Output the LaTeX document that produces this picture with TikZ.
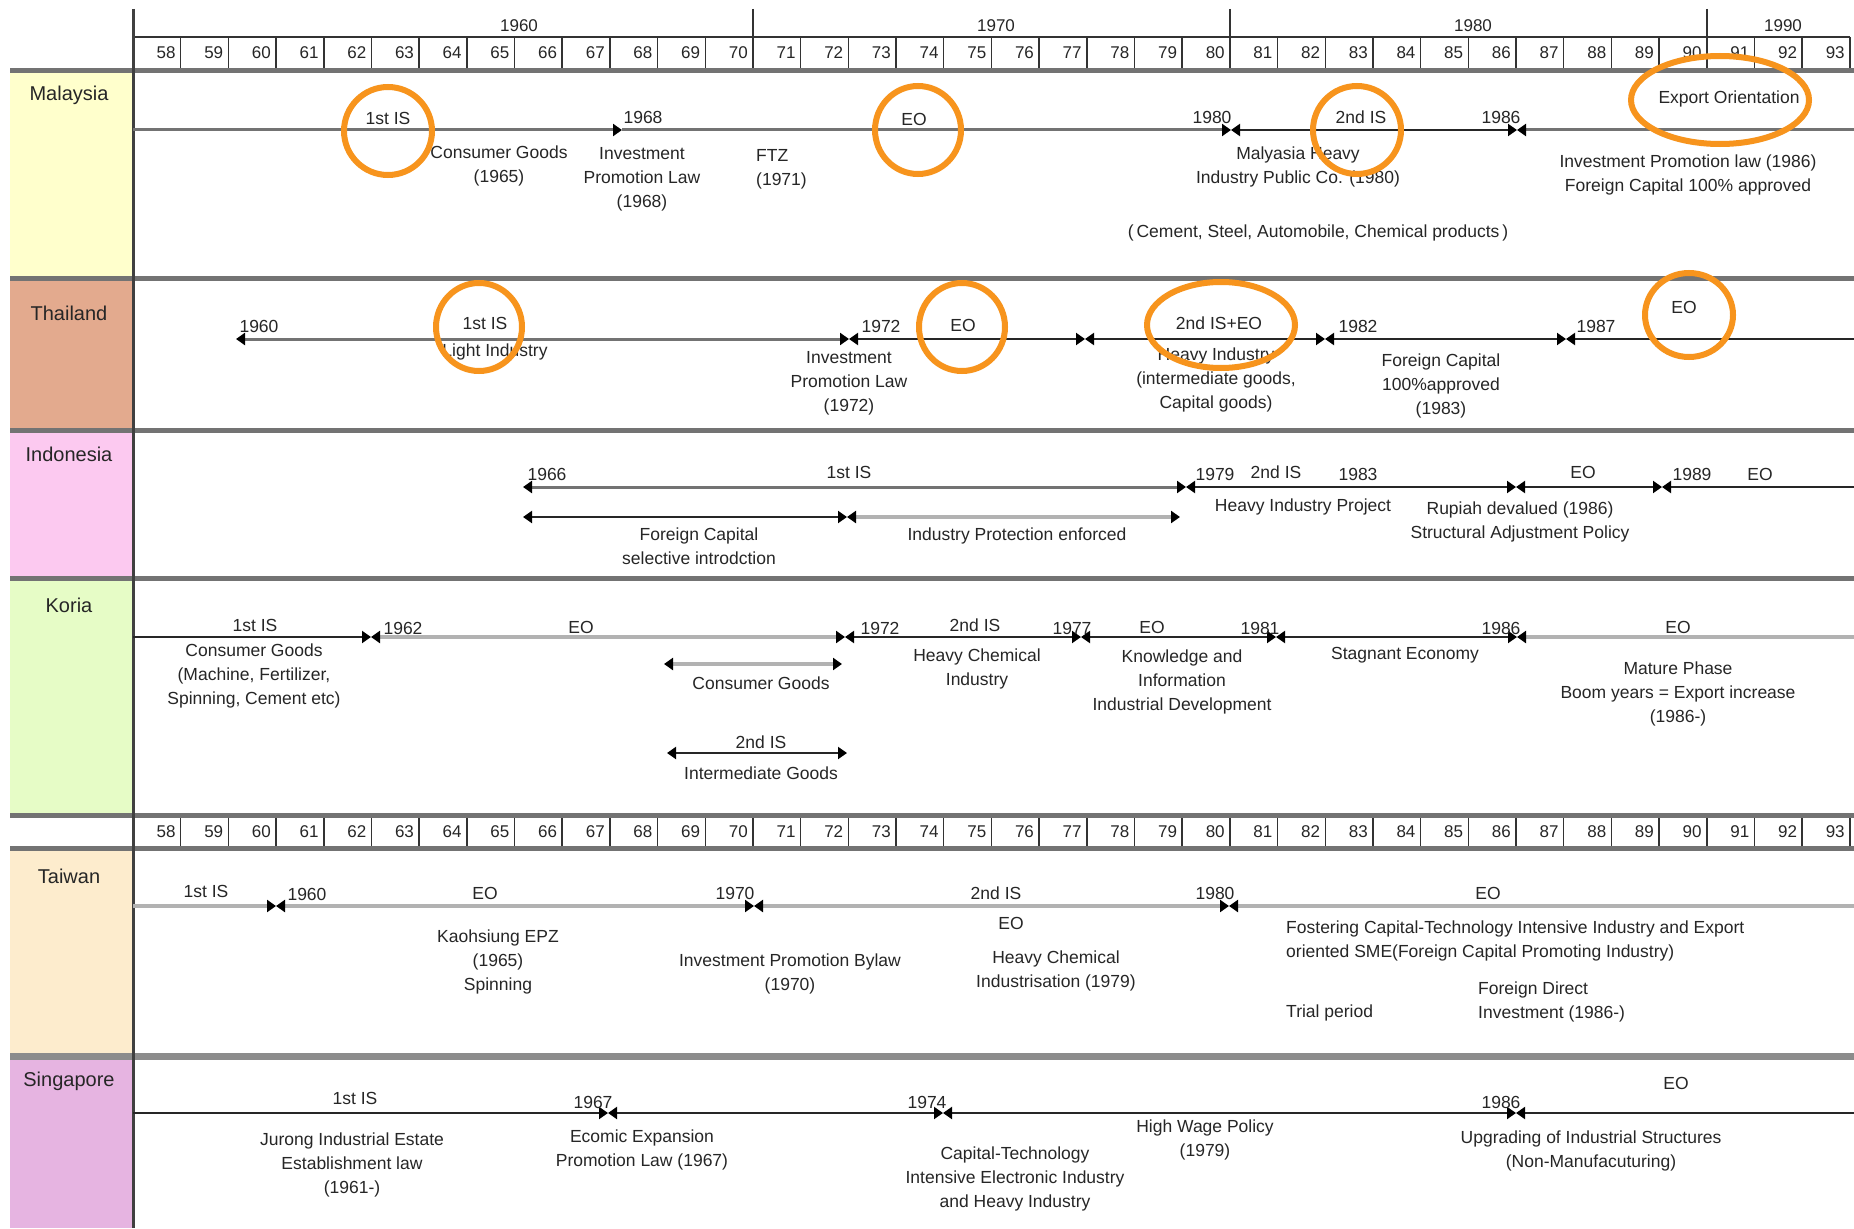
\documentclass[tikz,border=0pt]{standalone}
\usepackage{fontspec}
\setmainfont{Liberation Sans}
\usetikzlibrary{arrows.meta}
\definecolor{ring}{RGB}{247,148,29}
\definecolor{cMal}{RGB}{255,255,204}
\definecolor{cTha}{RGB}{227,170,142}
\definecolor{cIdn}{RGB}{252,201,240}
\definecolor{cKor}{RGB}{230,252,198}
\definecolor{cTwn}{RGB}{253,236,205}
\definecolor{cSgp}{RGB}{230,180,225}
\begin{document}
\begin{tikzpicture}[x=1pt,y=-1pt,
  tri/.tip={Triangle[length=9pt,width=12pt,color=black]},
  lbl/.style={font=\fontsize{17.5}{24}\selectfont,text=black!85,align=center,inner sep=0pt},
  lbll/.style={lbl,align=left,anchor=west},
  yr/.style={font=\fontsize{17}{20}\selectfont,text=black!85,inner sep=0pt},
  country/.style={font=\fontsize{20}{24}\selectfont,text=black!85,inner sep=0pt},
  sepbar/.style={draw=black!55,line width=5},
  midln/.style={draw=black!55,line width=3},
  darkln/.style={draw=black!85,line width=2},
  lightln/.style={draw=black!30,line width=4.5},
  ringc/.style={draw=ring,line width=6}]

\useasboundingbox (0,0) rectangle (1854,1228);
\fill[white] (0,0) rectangle (1854,1228);

% country label column
\fill[cMal] (10,73) rectangle (133,276);
\fill[cTha] (10,280) rectangle (133,428);
\fill[cIdn] (10,432) rectangle (133,576);
\fill[cKor] (10,580) rectangle (133,813);
\fill[cTwn] (10,850) rectangle (133,1053);
\fill[cSgp] (10,1059) rectangle (133,1228);

\node[country] (lMal) at (69,95) {Malaysia};
\node[country] (lTha) at (69,313) {Thailand};
\node[country] (lIdn) at (69,454) {Indonesia};
\node[country] (lKor) at (69,605) {Koria};
\node[country] (lTwn) at (69,876) {Taiwan};
\node[country] (lSgp) at (69,1081) {Singapore};

% year scales
\def\cw{47.69}
\draw[black!80,line width=1.5] (133,37) -- (1850,37);
\foreach \i in {0,...,35}{
  \pgfmathsetmacro\xr{133+(\i+1)*\cw}
  \pgfmathtruncatemacro\yv{58+\i}
  \draw[black!80,line width=1.5] (\xr,37) -- (\xr,68);
  \draw[black!80,line width=1.5] (\xr,818) -- (\xr,846);
  \node[yr,anchor=east] (ya\i) at (\xr-5,53) {\yv};
  \node[yr,anchor=east] (yb\i) at (\xr-5,832) {\yv};
}
\foreach \k in {13,23,33}{
  \draw[black!80,line width=2] (133+\k*\cw,9) -- (133+\k*\cw,37);
}
\node[yr] (d60) at (519,26) {1960};
\node[yr] (d70) at (996,26) {1970};
\node[yr] (d80) at (1473,26) {1980};
\node[yr] (d90) at (1783,26) {1990};

% row separators
\foreach \yy in {71,278,430,578,815,848}{
  \draw[sepbar] (10,\yy) -- (1854,\yy);
}
\draw[draw=black!45,line width=7] (10,1056) -- (1854,1056);
\draw[black!75,line width=3] (133,9) -- (133,1228);

% ---------- Malaysia ----------
\coordinate (m0) at (133,130);
\coordinate (m68) at (622,130);
\coordinate (m80) at (1231,130);
\coordinate (m86) at (1517,130);
\coordinate (mE) at (1854,130);
\draw[midln,-tri] (m0) -- (m68);
\draw[midln,-tri] (m68) -- (m80);
\draw[darkln,tri-tri] (m80) -- (m86);
\draw[midln,tri-] (m86) -- (mE);

\node[lbl] (mIS1) at (388,118) {1st IS};
\node[lbl] (mY68) at (643,117) {1968};
\node[lbl] (mCG) at (499,166) {Consumer Goods\\(1965)};
\node[lbl] (mIPL) at (642,179) {Investment\\Promotion Law\\(1968)};
\node[lbll] (mFTZ) at (756,169) {FTZ\\(1971)};
\node[lbl] (mEO) at (914,119) {EO};
\node[lbl] (mY80) at (1212,117) {1980};
\node[lbl] (mIS2) at (1361,117) {2nd IS};
\node[lbl] (mY86) at (1501,117) {1986};
\node[lbl] (mHI) at (1298,167) {Malyasia Heavy\\Industry Public Co. (1980)};
\node[lbl] (mCem) at (1318,233) {(\,Cement, Steel, Automobile, Chemical products\,)};
\node[lbl] (mExp) at (1729,99) {Export Orientation};
\node[lbl] (mIPL2) at (1688,175) {Investment Promotion law (1986)\\Foreign Capital 100\% approved};

% ---------- Thailand ----------
\coordinate (t60) at (236,339);
\coordinate (t72) at (849,339);
\coordinate (tB) at (1085,339);
\coordinate (t82) at (1325,339);
\coordinate (t87) at (1566,339);
\coordinate (tE) at (1854,339);
\draw[midln,tri-tri] (t60) -- (t72);
\draw[darkln,tri-tri] (t72) -- (tB);
\draw[darkln,tri-tri] (tB) -- (t82);
\draw[darkln,tri-tri] (t82) -- (t87);
\draw[darkln,tri-] (t87) -- (tE);

\node[lbl] (tY60) at (259,326) {1960};
\node[lbl] (tIS1) at (485,323) {1st IS};
\node[lbl] (tLI) at (495,352) {Light Industry};
\node[lbl] (tY72) at (881,326) {1972};
\node[lbl] (tIPL) at (849,383) {Investment\\Promotion Law\\(1972)};
\node[lbl] (tEO1) at (963,325) {EO};
\node[lbl] (tIS2) at (1219,323) {2nd IS+EO};
\node[lbl] (tHI) at (1216,380) {Heavy Industry\\(intermediate goods,\\Capital goods)};
\node[lbl] (tY82) at (1358,326) {1982};
\node[lbl] (tFC) at (1441,386) {Foreign Capital\\100\%approved\\(1983)};
\node[lbl] (tY87) at (1596,326) {1987};
\node[lbl] (tEO2) at (1684,307) {EO};

% ---------- Indonesia ----------
\coordinate (i66) at (523,487);
\coordinate (i79) at (1186,487);
\coordinate (i86) at (1516,487);
\coordinate (i89) at (1662,487);
\coordinate (iE) at (1854,487);
\draw[midln,tri-tri] (i66) -- (i79);
\draw[darkln,tri-tri] (i79) -- (i86);
\draw[darkln,tri-tri] (i86) -- (i89);
\draw[darkln,tri-] (i89) -- (iE);
\coordinate (j66) at (523,517);
\coordinate (j72) at (847,517);
\coordinate (j79) at (1180,517);
\draw[darkln,tri-tri] (j66) -- (j72);
\draw[lightln,tri-tri] (j72) -- (j79);

\node[lbl] (iY66) at (547,474) {1966};
\node[lbl] (iIS1) at (849,472) {1st IS};
\node[lbl] (iY79) at (1215,474) {1979};
\node[lbl] (iIS2) at (1276,472) {2nd IS};
\node[lbl] (iY83) at (1358,474) {1983};
\node[lbl] (iEO1) at (1583,472) {EO};
\node[lbl] (iY89) at (1692,474) {1989};
\node[lbl] (iEO2) at (1760,474) {EO};
\node[lbl] (iHIP) at (1303,507) {Heavy Industry Project};
\node[lbl] (iRup) at (1520,522) {Rupiah devalued (1986)\\Structural Adjustment Policy};
\node[lbl] (iFC) at (699,546) {Foreign Capital\\selective introdction};
\node[lbl] (iIP) at (1017,536) {Industry Protection enforced};

% ---------- Korea ----------
\coordinate (k0) at (133,637);
\coordinate (k62) at (371,637);
\coordinate (k72) at (845,637);
\coordinate (k77) at (1081,637);
\coordinate (k81) at (1276,637);
\coordinate (k86) at (1517,637);
\coordinate (kE) at (1854,637);
\draw[darkln,-tri] (k0) -- (k62);
\draw[lightln,tri-tri] (k62) -- (k72);
\draw[darkln,tri-tri] (k72) -- (k77);
\draw[darkln,tri-tri] (k77) -- (k81);
\draw[darkln,tri-tri] (k81) -- (k86);
\draw[lightln,tri-] (k86) -- (kE);
\coordinate (kc1) at (664,664);
\coordinate (kc2) at (842,664);
\draw[lightln,tri-tri] (kc1) -- (kc2);
\coordinate (ki1) at (667,753);
\coordinate (ki2) at (847,753);
\draw[darkln,tri-tri] (ki1) -- (ki2);

\node[lbl] (kIS1) at (255,625) {1st IS};
\node[lbl] (kY62) at (403,628) {1962};
\node[lbl] (kCG) at (254,676) {Consumer Goods\\(Machine, Fertilizer,\\Spinning, Cement etc)};
\node[lbl] (kEO1) at (581,627) {EO};
\node[lbl] (kCG2) at (761,683) {Consumer Goods};
\node[lbl] (kIS2a) at (761,742) {2nd IS};
\node[lbl] (kIG) at (761,773) {Intermediate Goods};
\node[lbl] (kY72) at (880,628) {1972};
\node[lbl] (kIS2) at (975,625) {2nd IS};
\node[lbl] (kHC) at (977,669) {Heavy Chemical\\Industry};
\node[lbl] (kY77) at (1072,628) {1977};
\node[lbl] (kEO2) at (1152,627) {EO};
\node[lbl] (kKI) at (1182,682) {Knowledge and\\Information\\Industrial Development};
\node[lbl] (kY81) at (1260,628) {1981};
\node[lbl] (kSE) at (1405,655) {Stagnant Economy};
\node[lbl] (kY86) at (1501,628) {1986};
\node[lbl] (kEO3) at (1678,627) {EO};
\node[lbl] (kMP) at (1678,694) {Mature Phase\\Boom years = Export increase\\(1986-)};

% ---------- Taiwan ----------
\coordinate (w0) at (133,906);
\coordinate (w60) at (276,906);
\coordinate (w70) at (754,906);
\coordinate (w80) at (1229,906);
\coordinate (wE) at (1854,906);
\draw[lightln,-tri] (w0) -- (w60);
\draw[lightln,tri-tri] (w60) -- (w70);
\draw[lightln,tri-tri] (w70) -- (w80);
\draw[lightln,tri-] (w80) -- (wE);

\node[lbl] (wIS1) at (206,891) {1st IS};
\node[lbl] (wY60) at (307,894) {1960};
\node[lbl] (wEO1) at (485,893) {EO};
\node[lbl] (wKE) at (498,962) {Kaohsiung EPZ\\(1965)\\Spinning};
\node[lbl] (wY70) at (735,893) {1970};
\node[lbl] (wIPB) at (790,974) {Investment Promotion Bylaw\\(1970)};
\node[lbl] (wIS2) at (996,893) {2nd IS};
\node[lbl] (wEO2) at (1011,923) {EO};
\node[lbl] (wHC) at (1056,971) {Heavy Chemical\\Industrisation (1979)};
\node[lbl] (wY80) at (1215,893) {1980};
\node[lbl] (wEO3) at (1488,893) {EO};
\node[lbll] (wFos) at (1286,941) {Fostering Capital-Technology Intensive Industry and Export\\oriented SME(Foreign Capital Promoting Industry)};
\node[lbll] (wTP) at (1286,1013) {Trial period};
\node[lbll] (wFDI) at (1478,1002) {Foreign Direct\\Investment (1986-)};

% ---------- Singapore ----------
\coordinate (s0) at (133,1113);
\coordinate (s67) at (608,1113);
\coordinate (s74) at (943,1113);
\coordinate (s86) at (1516,1113);
\coordinate (sE) at (1854,1113);
\draw[darkln,-tri] (s0) -- (s67);
\draw[darkln,tri-tri] (s67) -- (s74);
\draw[darkln,tri-tri] (s74) -- (s86);
\draw[darkln,tri-] (s86) -- (sE);

\node[lbl] (sIS1) at (355,1098) {1st IS};
\node[lbl] (sJur) at (352,1165) {Jurong Industrial Estate\\Establishment law\\(1961-)};
\node[lbl] (sY67) at (593,1102) {1967};
\node[lbl] (sEEP) at (642,1150) {Ecomic Expansion\\Promotion Law (1967)};
\node[lbl] (sY74) at (927,1102) {1974};
\node[lbl] (sCT) at (1015,1179) {Capital-Technology\\Intensive Electronic Industry\\and Heavy Industry};
\node[lbl] (sHW) at (1205,1140) {High Wage Policy\\(1979)};
\node[lbl] (sY86) at (1501,1102) {1986};
\node[lbl] (sEO) at (1676,1083) {EO};
\node[lbl] (sUp) at (1591,1151) {Upgrading of Industrial Structures\\(Non-Manufacuturing)};

% ---------- highlight rings ----------
\draw[ringc] (388,131) ellipse [x radius=44, y radius=44];
\draw[ringc] (918,130) ellipse [x radius=43, y radius=44];
\draw[ringc] (1357,130) ellipse [x radius=44, y radius=44];
\draw[ringc] (1720,100) ellipse [x radius=89, y radius=44];
\draw[ringc] (479,327) ellipse [x radius=43, y radius=44];
\draw[ringc] (962,327) ellipse [x radius=43, y radius=44];
\draw[ringc] (1221,325) ellipse [x radius=74, y radius=43];
\draw[ringc] (1689,315) ellipse [x radius=44, y radius=42];
\end{tikzpicture}
\end{document}
